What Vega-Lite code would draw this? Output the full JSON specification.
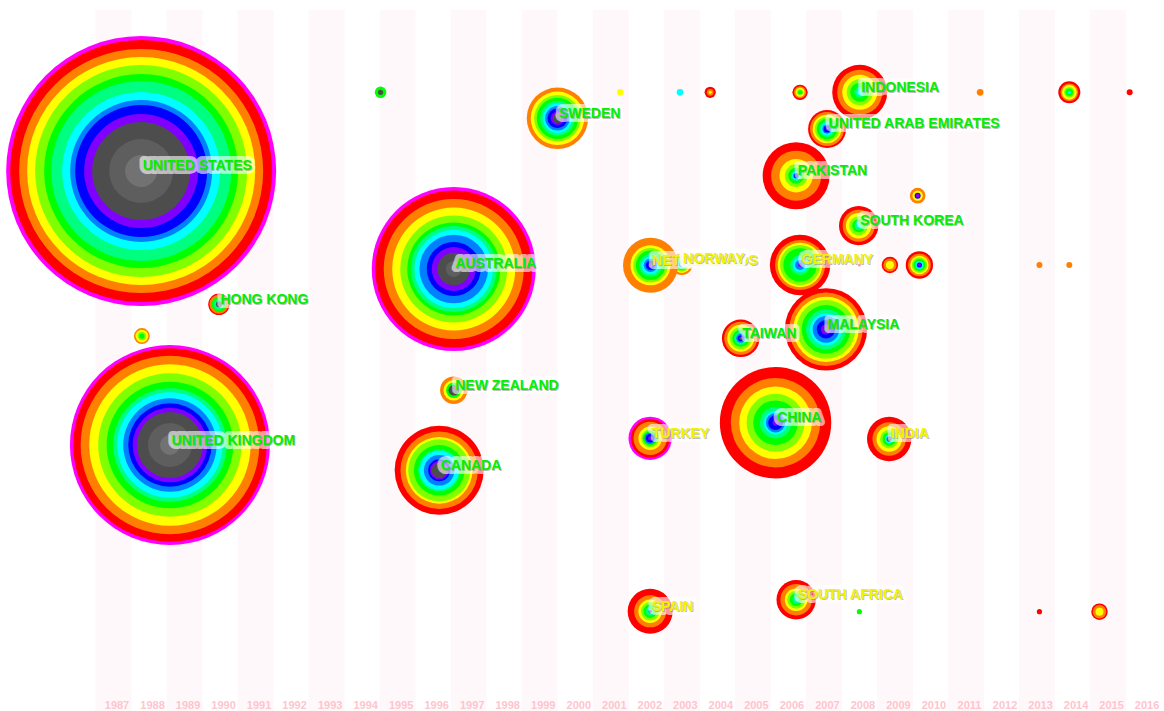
{
  "$schema": "https://vega.github.io/schema/vega-lite/v6.json",
  "width": 1164,
  "height": 711,
  "autosize": {"type": "none"},
  "padding": 0,
  "background": "#ffffff",
  "config": {"view": {"stroke": null}},
  "resolve": {"scale": {"color": "independent"}},
  "datasets": {
    "years": [
      {"year": 1987}, {"year": 1988}, {"year": 1989}, {"year": 1990}, {"year": 1991}, {"year": 1992},
      {"year": 1993}, {"year": 1994}, {"year": 1995}, {"year": 1996}, {"year": 1997}, {"year": 1998},
      {"year": 1999}, {"year": 2000}, {"year": 2001}, {"year": 2002}, {"year": 2003}, {"year": 2004},
      {"year": 2005}, {"year": 2006}, {"year": 2007}, {"year": 2008}, {"year": 2009}, {"year": 2010},
      {"year": 2011}, {"year": 2012}, {"year": 2013}, {"year": 2014}, {"year": 2015}, {"year": 2016}
    ],
    "rings": [
      {"node": "UNITED STATES", "x": 1987.68, "y": 24.05, "band": "centrality", "n": 8100},
      {"node": "UNITED STATES", "x": 1987.68, "y": 24.05, "band": "2016", "n": 7627},
      {"node": "UNITED STATES", "x": 1987.68, "y": 24.05, "band": "2015", "n": 6615},
      {"node": "UNITED STATES", "x": 1987.68, "y": 24.05, "band": "2014", "n": 5776},
      {"node": "UNITED STATES", "x": 1987.68, "y": 24.05, "band": "2013", "n": 4994},
      {"node": "UNITED STATES", "x": 1987.68, "y": 24.05, "band": "2012", "n": 4182},
      {"node": "UNITED STATES", "x": 1987.68, "y": 24.05, "band": "2011", "n": 3600},
      {"node": "UNITED STATES", "x": 1987.68, "y": 24.05, "band": "2010", "n": 2774},
      {"node": "UNITED STATES", "x": 1987.68, "y": 24.05, "band": "2009", "n": 2240},
      {"node": "UNITED STATES", "x": 1987.68, "y": 24.05, "band": "2008", "n": 1936},
      {"node": "UNITED STATES", "x": 1987.68, "y": 24.05, "band": "2007", "n": 1444},
      {"node": "UNITED STATES", "x": 1987.68, "y": 24.05, "band": "2001-2006", "n": 1067},
      {"node": "UNITED STATES", "x": 1987.68, "y": 24.05, "band": "1994-2000", "n": 455},
      {"node": "UNITED STATES", "x": 1987.68, "y": 24.05, "band": "1987-1993", "n": 114},

      {"node": "UNITED KINGDOM", "x": 1988.49, "y": 62.59, "band": "centrality", "n": 4444},
      {"node": "UNITED KINGDOM", "x": 1988.49, "y": 62.59, "band": "2016", "n": 4156},
      {"node": "UNITED KINGDOM", "x": 1988.49, "y": 62.59, "band": "2015", "n": 3544},
      {"node": "UNITED KINGDOM", "x": 1988.49, "y": 62.59, "band": "2014", "n": 2894},
      {"node": "UNITED KINGDOM", "x": 1988.49, "y": 62.59, "band": "2013", "n": 2285},
      {"node": "UNITED KINGDOM", "x": 1988.49, "y": 62.59, "band": "2012", "n": 1781},
      {"node": "UNITED KINGDOM", "x": 1988.49, "y": 62.59, "band": "2011", "n": 1429},
      {"node": "UNITED KINGDOM", "x": 1988.49, "y": 62.59, "band": "2010", "n": 1234},
      {"node": "UNITED KINGDOM", "x": 1988.49, "y": 62.59, "band": "2009", "n": 969},
      {"node": "UNITED KINGDOM", "x": 1988.49, "y": 62.59, "band": "2008", "n": 773},
      {"node": "UNITED KINGDOM", "x": 1988.49, "y": 62.59, "band": "2007", "n": 618},
      {"node": "UNITED KINGDOM", "x": 1988.49, "y": 62.59, "band": "2001-2006", "n": 484},
      {"node": "UNITED KINGDOM", "x": 1988.49, "y": 62.59, "band": "1994-2000", "n": 215},
      {"node": "UNITED KINGDOM", "x": 1988.49, "y": 62.59, "band": "1987-1993", "n": 44},

      {"node": "AUSTRALIA", "x": 1996.48, "y": 37.83, "band": "centrality", "n": 2988},
      {"node": "AUSTRALIA", "x": 1996.48, "y": 37.83, "band": "2016", "n": 2739},
      {"node": "AUSTRALIA", "x": 1996.48, "y": 37.83, "band": "2015", "n": 2178},
      {"node": "AUSTRALIA", "x": 1996.48, "y": 37.83, "band": "2014", "n": 1681},
      {"node": "AUSTRALIA", "x": 1996.48, "y": 37.83, "band": "2013", "n": 1272},
      {"node": "AUSTRALIA", "x": 1996.48, "y": 37.83, "band": "2012", "n": 961},
      {"node": "AUSTRALIA", "x": 1996.48, "y": 37.83, "band": "2011", "n": 822},
      {"node": "AUSTRALIA", "x": 1996.48, "y": 37.83, "band": "2010", "n": 686},
      {"node": "AUSTRALIA", "x": 1996.48, "y": 37.83, "band": "2009", "n": 523},
      {"node": "AUSTRALIA", "x": 1996.48, "y": 37.83, "band": "2008", "n": 324},
      {"node": "AUSTRALIA", "x": 1996.48, "y": 37.83, "band": "2007", "n": 215},
      {"node": "AUSTRALIA", "x": 1996.48, "y": 37.83, "band": "2001-2006", "n": 118},
      {"node": "AUSTRALIA", "x": 1996.48, "y": 37.83, "band": "1994-2000", "n": 28},

      {"node": "CANADA", "x": 1996.07, "y": 66.15, "band": "2016", "n": 880},
      {"node": "CANADA", "x": 1996.07, "y": 66.15, "band": "2015", "n": 666},
      {"node": "CANADA", "x": 1996.07, "y": 66.15, "band": "2014", "n": 493},
      {"node": "CANADA", "x": 1996.07, "y": 66.15, "band": "2013", "n": 427},
      {"node": "CANADA", "x": 1996.07, "y": 66.15, "band": "2012", "n": 284},
      {"node": "CANADA", "x": 1996.07, "y": 66.15, "band": "2011", "n": 196},
      {"node": "CANADA", "x": 1996.07, "y": 66.15, "band": "2010", "n": 166},
      {"node": "CANADA", "x": 1996.07, "y": 66.15, "band": "2009", "n": 104},
      {"node": "CANADA", "x": 1996.07, "y": 66.15, "band": "2008", "n": 54},
      {"node": "CANADA", "x": 1996.07, "y": 66.15, "band": "2007", "n": 38},
      {"node": "CANADA", "x": 1996.07, "y": 66.15, "band": "2001-2006", "n": 26},

      {"node": "NEW ZEALAND", "x": 1996.48, "y": 54.89, "band": "2015", "n": 83},
      {"node": "NEW ZEALAND", "x": 1996.48, "y": 54.89, "band": "2014", "n": 47},
      {"node": "NEW ZEALAND", "x": 1996.48, "y": 54.89, "band": "2012", "n": 26},
      {"node": "NEW ZEALAND", "x": 1996.48, "y": 54.89, "band": "2001-2006", "n": 12},

      {"node": "HONG KONG", "x": 1989.87, "y": 42.80, "band": "2016", "n": 51},
      {"node": "HONG KONG", "x": 1989.87, "y": 42.80, "band": "2015", "n": 40},
      {"node": "HONG KONG", "x": 1989.87, "y": 42.80, "band": "2012", "n": 25},
      {"node": "HONG KONG", "x": 1989.87, "y": 42.80, "band": "2011", "n": 13},
      {"node": "HONG KONG", "x": 1989.87, "y": 42.80, "band": "2001-2006", "n": 4},

      {"node": "n27", "x": 1987.70, "y": 47.26, "band": "2015", "n": 28},
      {"node": "n27", "x": 1987.70, "y": 47.26, "band": "2014", "n": 18},
      {"node": "n27", "x": 1987.70, "y": 47.26, "band": "2013", "n": 8},
      {"node": "n27", "x": 1987.70, "y": 47.26, "band": "2012", "n": 3},

      {"node": "n05", "x": 1994.42, "y": 12.98, "band": "2012", "n": 15},
      {"node": "n05", "x": 1994.42, "y": 12.98, "band": "2001-2006", "n": 3},

      {"node": "SWEDEN", "x": 1999.40, "y": 16.64, "band": "2015", "n": 419},
      {"node": "SWEDEN", "x": 1999.40, "y": 16.64, "band": "2014", "n": 317},
      {"node": "SWEDEN", "x": 1999.40, "y": 16.64, "band": "2013", "n": 241},
      {"node": "SWEDEN", "x": 1999.40, "y": 16.64, "band": "2012", "n": 190},
      {"node": "SWEDEN", "x": 1999.40, "y": 16.64, "band": "2011", "n": 133},
      {"node": "SWEDEN", "x": 1999.40, "y": 16.64, "band": "2010", "n": 96},
      {"node": "SWEDEN", "x": 1999.40, "y": 16.64, "band": "2009", "n": 67},
      {"node": "SWEDEN", "x": 1999.40, "y": 16.64, "band": "2008", "n": 44},
      {"node": "SWEDEN", "x": 1999.40, "y": 16.64, "band": "2007", "n": 20},
      {"node": "SWEDEN", "x": 1999.40, "y": 16.64, "band": "2001-2006", "n": 10},

      {"node": "n06", "x": 2001.17, "y": 12.98, "band": "2014", "n": 5},
      {"node": "n07", "x": 2002.85, "y": 12.98, "band": "2010", "n": 5},
      {"node": "n08", "x": 2003.70, "y": 12.98, "band": "2016", "n": 14},
      {"node": "n08", "x": 2003.70, "y": 12.98, "band": "2015", "n": 5},
      {"node": "n08", "x": 2003.70, "y": 12.98, "band": "2014", "n": 1},
      {"node": "n09", "x": 2006.23, "y": 12.98, "band": "2016", "n": 26},
      {"node": "n09", "x": 2006.23, "y": 12.98, "band": "2015", "n": 16},
      {"node": "n09", "x": 2006.23, "y": 12.98, "band": "2014", "n": 9},
      {"node": "n09", "x": 2006.23, "y": 12.98, "band": "2013", "n": 4},
      {"node": "n09", "x": 2006.23, "y": 12.98, "band": "2012", "n": 2},

      {"node": "INDONESIA", "x": 2007.91, "y": 12.98, "band": "2016", "n": 336},
      {"node": "INDONESIA", "x": 2007.91, "y": 12.98, "band": "2015", "n": 225},
      {"node": "INDONESIA", "x": 2007.91, "y": 12.98, "band": "2014", "n": 136},
      {"node": "INDONESIA", "x": 2007.91, "y": 12.98, "band": "2013", "n": 75},
      {"node": "INDONESIA", "x": 2007.91, "y": 12.98, "band": "2012", "n": 40},
      {"node": "INDONESIA", "x": 2007.91, "y": 12.98, "band": "2011", "n": 13},
      {"node": "INDONESIA", "x": 2007.91, "y": 12.98, "band": "2010", "n": 4},

      {"node": "n11", "x": 2011.30, "y": 12.98, "band": "2015", "n": 5},
      {"node": "n12", "x": 2013.81, "y": 12.98, "band": "2016", "n": 54},
      {"node": "n12", "x": 2013.81, "y": 12.98, "band": "2015", "n": 34},
      {"node": "n12", "x": 2013.81, "y": 12.98, "band": "2014", "n": 24},
      {"node": "n12", "x": 2013.81, "y": 12.98, "band": "2013", "n": 12},
      {"node": "n12", "x": 2013.81, "y": 12.98, "band": "2012", "n": 6},
      {"node": "n12", "x": 2013.81, "y": 12.98, "band": "2010", "n": 1},
      {"node": "n13", "x": 2015.51, "y": 12.98, "band": "2016", "n": 4},

      {"node": "UNITED ARAB EMIRATES", "x": 2006.99, "y": 18.14, "band": "2016", "n": 160},
      {"node": "UNITED ARAB EMIRATES", "x": 2006.99, "y": 18.14, "band": "2015", "n": 128},
      {"node": "UNITED ARAB EMIRATES", "x": 2006.99, "y": 18.14, "band": "2014", "n": 91},
      {"node": "UNITED ARAB EMIRATES", "x": 2006.99, "y": 18.14, "band": "2013", "n": 67},
      {"node": "UNITED ARAB EMIRATES", "x": 2006.99, "y": 18.14, "band": "2012", "n": 47},
      {"node": "UNITED ARAB EMIRATES", "x": 2006.99, "y": 18.14, "band": "2011", "n": 28},
      {"node": "UNITED ARAB EMIRATES", "x": 2006.99, "y": 18.14, "band": "2010", "n": 18},
      {"node": "UNITED ARAB EMIRATES", "x": 2006.99, "y": 18.14, "band": "2009", "n": 10},
      {"node": "UNITED ARAB EMIRATES", "x": 2006.99, "y": 18.14, "band": "2008", "n": 5},
      {"node": "UNITED ARAB EMIRATES", "x": 2006.99, "y": 18.14, "band": "2007", "n": 1},

      {"node": "PAKISTAN", "x": 2006.12, "y": 24.71, "band": "2016", "n": 499},
      {"node": "PAKISTAN", "x": 2006.12, "y": 24.71, "band": "2015", "n": 278},
      {"node": "PAKISTAN", "x": 2006.12, "y": 24.71, "band": "2014", "n": 124},
      {"node": "PAKISTAN", "x": 2006.12, "y": 24.71, "band": "2013", "n": 57},
      {"node": "PAKISTAN", "x": 2006.12, "y": 24.71, "band": "2012", "n": 28},
      {"node": "PAKISTAN", "x": 2006.12, "y": 24.71, "band": "2011", "n": 13},
      {"node": "PAKISTAN", "x": 2006.12, "y": 24.71, "band": "2010", "n": 7},
      {"node": "PAKISTAN", "x": 2006.12, "y": 24.71, "band": "2008", "n": 3},

      {"node": "n16", "x": 2009.54, "y": 27.52, "band": "2015", "n": 27},
      {"node": "n16", "x": 2009.54, "y": 27.52, "band": "2014", "n": 12},
      {"node": "n16", "x": 2009.54, "y": 27.52, "band": "2008", "n": 4},
      {"node": "n16", "x": 2009.54, "y": 27.52, "band": "2007", "n": 2},

      {"node": "SOUTH KOREA", "x": 2007.88, "y": 31.74, "band": "2016", "n": 172},
      {"node": "SOUTH KOREA", "x": 2007.88, "y": 31.74, "band": "2015", "n": 114},
      {"node": "SOUTH KOREA", "x": 2007.88, "y": 31.74, "band": "2014", "n": 72},
      {"node": "SOUTH KOREA", "x": 2007.88, "y": 31.74, "band": "2013", "n": 40},
      {"node": "SOUTH KOREA", "x": 2007.88, "y": 31.74, "band": "2012", "n": 19},
      {"node": "SOUTH KOREA", "x": 2007.88, "y": 31.74, "band": "2011", "n": 7},
      {"node": "SOUTH KOREA", "x": 2007.88, "y": 31.74, "band": "2010", "n": 2},

      {"node": "NORWAY", "x": 2002.90, "y": 37.13, "band": "2015", "n": 54},
      {"node": "NORWAY", "x": 2002.90, "y": 37.13, "band": "2014", "n": 36},
      {"node": "NORWAY", "x": 2002.90, "y": 37.13, "band": "2013", "n": 25},
      {"node": "NORWAY", "x": 2002.90, "y": 37.13, "band": "2012", "n": 16},
      {"node": "NORWAY", "x": 2002.90, "y": 37.13, "band": "2010", "n": 9},
      {"node": "NORWAY", "x": 2002.90, "y": 37.13, "band": "2009", "n": 4},
      {"node": "NORWAY", "x": 2002.90, "y": 37.13, "band": "2007", "n": 1},

      {"node": "NETHERLANDS", "x": 2002.02, "y": 37.31, "band": "2015", "n": 336},
      {"node": "NETHERLANDS", "x": 2002.02, "y": 37.31, "band": "2014", "n": 178},
      {"node": "NETHERLANDS", "x": 2002.02, "y": 37.31, "band": "2013", "n": 133},
      {"node": "NETHERLANDS", "x": 2002.02, "y": 37.31, "band": "2012", "n": 96},
      {"node": "NETHERLANDS", "x": 2002.02, "y": 37.31, "band": "2011", "n": 57},
      {"node": "NETHERLANDS", "x": 2002.02, "y": 37.31, "band": "2010", "n": 36},
      {"node": "NETHERLANDS", "x": 2002.02, "y": 37.31, "band": "2009", "n": 20},
      {"node": "NETHERLANDS", "x": 2002.02, "y": 37.31, "band": "2008", "n": 10},
      {"node": "NETHERLANDS", "x": 2002.02, "y": 37.31, "band": "2007", "n": 2},

      {"node": "GERMANY", "x": 2006.23, "y": 37.27, "band": "2016", "n": 405},
      {"node": "GERMANY", "x": 2006.23, "y": 37.27, "band": "2015", "n": 278},
      {"node": "GERMANY", "x": 2006.23, "y": 37.27, "band": "2014", "n": 221},
      {"node": "GERMANY", "x": 2006.23, "y": 37.27, "band": "2013", "n": 178},
      {"node": "GERMANY", "x": 2006.23, "y": 37.27, "band": "2012", "n": 124},
      {"node": "GERMANY", "x": 2006.23, "y": 37.27, "band": "2011", "n": 44},
      {"node": "GERMANY", "x": 2006.23, "y": 37.27, "band": "2010", "n": 24},
      {"node": "GERMANY", "x": 2006.23, "y": 37.27, "band": "2009", "n": 11},
      {"node": "GERMANY", "x": 2006.23, "y": 37.27, "band": "2007", "n": 2},

      {"node": "n21", "x": 2007.90, "y": 37.27, "band": "2016", "n": 1},
      {"node": "n22", "x": 2008.76, "y": 37.27, "band": "2016", "n": 30},
      {"node": "n22", "x": 2008.76, "y": 37.27, "band": "2015", "n": 19},
      {"node": "n22", "x": 2008.76, "y": 37.27, "band": "2014", "n": 7},
      {"node": "n23", "x": 2009.59, "y": 37.27, "band": "2016", "n": 83},
      {"node": "n23", "x": 2009.59, "y": 37.27, "band": "2015", "n": 57},
      {"node": "n23", "x": 2009.59, "y": 37.27, "band": "2014", "n": 38},
      {"node": "n23", "x": 2009.59, "y": 37.27, "band": "2013", "n": 26},
      {"node": "n23", "x": 2009.59, "y": 37.27, "band": "2012", "n": 16},
      {"node": "n23", "x": 2009.59, "y": 37.27, "band": "2010", "n": 7},
      {"node": "n23", "x": 2009.59, "y": 37.27, "band": "2008", "n": 3},
      {"node": "n23", "x": 2009.59, "y": 37.27, "band": "2007", "n": 1},
      {"node": "n24", "x": 2012.97, "y": 37.27, "band": "2015", "n": 4},
      {"node": "n25", "x": 2013.81, "y": 37.27, "band": "2015", "n": 4},

      {"node": "TAIWAN", "x": 2004.56, "y": 47.58, "band": "2016", "n": 157},
      {"node": "TAIWAN", "x": 2004.56, "y": 47.58, "band": "2015", "n": 121},
      {"node": "TAIWAN", "x": 2004.56, "y": 47.58, "band": "2014", "n": 81},
      {"node": "TAIWAN", "x": 2004.56, "y": 47.58, "band": "2013", "n": 54},
      {"node": "TAIWAN", "x": 2004.56, "y": 47.58, "band": "2012", "n": 32},
      {"node": "TAIWAN", "x": 2004.56, "y": 47.58, "band": "2011", "n": 19},
      {"node": "TAIWAN", "x": 2004.56, "y": 47.58, "band": "2009", "n": 9},
      {"node": "TAIWAN", "x": 2004.56, "y": 47.58, "band": "2008", "n": 4},
      {"node": "TAIWAN", "x": 2004.56, "y": 47.58, "band": "2001-2006", "n": 1},

      {"node": "MALAYSIA", "x": 2006.96, "y": 46.32, "band": "2016", "n": 754},
      {"node": "MALAYSIA", "x": 2006.96, "y": 46.32, "band": "2015", "n": 599},
      {"node": "MALAYSIA", "x": 2006.96, "y": 46.32, "band": "2014", "n": 475},
      {"node": "MALAYSIA", "x": 2006.96, "y": 46.32, "band": "2013", "n": 382},
      {"node": "MALAYSIA", "x": 2006.96, "y": 46.32, "band": "2012", "n": 262},
      {"node": "MALAYSIA", "x": 2006.96, "y": 46.32, "band": "2011", "n": 178},
      {"node": "MALAYSIA", "x": 2006.96, "y": 46.32, "band": "2010", "n": 114},
      {"node": "MALAYSIA", "x": 2006.96, "y": 46.32, "band": "2009", "n": 79},
      {"node": "MALAYSIA", "x": 2006.96, "y": 46.32, "band": "2008", "n": 38},
      {"node": "MALAYSIA", "x": 2006.96, "y": 46.32, "band": "2007", "n": 12},
      {"node": "MALAYSIA", "x": 2006.96, "y": 46.32, "band": "2001-2006", "n": 2},

      {"node": "CHINA", "x": 2005.54, "y": 59.45, "band": "2016", "n": 1379},
      {"node": "CHINA", "x": 2005.54, "y": 59.45, "band": "2015", "n": 888},
      {"node": "CHINA", "x": 2005.54, "y": 59.45, "band": "2014", "n": 586},
      {"node": "CHINA", "x": 2005.54, "y": 59.45, "band": "2013", "n": 374},
      {"node": "CHINA", "x": 2005.54, "y": 59.45, "band": "2012", "n": 221},
      {"node": "CHINA", "x": 2005.54, "y": 59.45, "band": "2011", "n": 110},
      {"node": "CHINA", "x": 2005.54, "y": 59.45, "band": "2010", "n": 61},
      {"node": "CHINA", "x": 2005.54, "y": 59.45, "band": "2009", "n": 42},
      {"node": "CHINA", "x": 2005.54, "y": 59.45, "band": "2008", "n": 24},
      {"node": "CHINA", "x": 2005.54, "y": 59.45, "band": "2007", "n": 4},

      {"node": "INDIA", "x": 2008.74, "y": 61.74, "band": "2016", "n": 219},
      {"node": "INDIA", "x": 2008.74, "y": 61.74, "band": "2015", "n": 124},
      {"node": "INDIA", "x": 2008.74, "y": 61.74, "band": "2014", "n": 72},
      {"node": "INDIA", "x": 2008.74, "y": 61.74, "band": "2013", "n": 38},
      {"node": "INDIA", "x": 2008.74, "y": 61.74, "band": "2012", "n": 20},
      {"node": "INDIA", "x": 2008.74, "y": 61.74, "band": "2010", "n": 8},
      {"node": "INDIA", "x": 2008.74, "y": 61.74, "band": "2001-2006", "n": 3},

      {"node": "TURKEY", "x": 2002.01, "y": 61.65, "band": "centrality", "n": 209},
      {"node": "TURKEY", "x": 2002.01, "y": 61.65, "band": "2016", "n": 166},
      {"node": "TURKEY", "x": 2002.01, "y": 61.65, "band": "2015", "n": 124},
      {"node": "TURKEY", "x": 2002.01, "y": 61.65, "band": "2014", "n": 61},
      {"node": "TURKEY", "x": 2002.01, "y": 61.65, "band": "2013", "n": 36},
      {"node": "TURKEY", "x": 2002.01, "y": 61.65, "band": "2012", "n": 24},
      {"node": "TURKEY", "x": 2002.01, "y": 61.65, "band": "2009", "n": 14},
      {"node": "TURKEY", "x": 2002.01, "y": 61.65, "band": "2008", "n": 8},
      {"node": "TURKEY", "x": 2002.01, "y": 61.65, "band": "2007", "n": 2},

      {"node": "SPAIN", "x": 2002.01, "y": 85.98, "band": "2016", "n": 225},
      {"node": "SPAIN", "x": 2002.01, "y": 85.98, "band": "2015", "n": 114},
      {"node": "SPAIN", "x": 2002.01, "y": 85.98, "band": "2014", "n": 61},
      {"node": "SPAIN", "x": 2002.01, "y": 85.98, "band": "2013", "n": 38},
      {"node": "SPAIN", "x": 2002.01, "y": 85.98, "band": "2012", "n": 20},
      {"node": "SPAIN", "x": 2002.01, "y": 85.98, "band": "2011", "n": 8},
      {"node": "SPAIN", "x": 2002.01, "y": 85.98, "band": "2007", "n": 1},

      {"node": "SOUTH AFRICA", "x": 2006.12, "y": 84.35, "band": "2016", "n": 172},
      {"node": "SOUTH AFRICA", "x": 2006.12, "y": 84.35, "band": "2015", "n": 110},
      {"node": "SOUTH AFRICA", "x": 2006.12, "y": 84.35, "band": "2014", "n": 57},
      {"node": "SOUTH AFRICA", "x": 2006.12, "y": 84.35, "band": "2013", "n": 36},
      {"node": "SOUTH AFRICA", "x": 2006.12, "y": 84.35, "band": "2012", "n": 18},
      {"node": "SOUTH AFRICA", "x": 2006.12, "y": 84.35, "band": "2011", "n": 6},
      {"node": "SOUTH AFRICA", "x": 2006.12, "y": 84.35, "band": "2010", "n": 1},

      {"node": "n37", "x": 2007.90, "y": 86.03, "band": "2012", "n": 3},
      {"node": "n38", "x": 2012.97, "y": 86.03, "band": "2016", "n": 3},
      {"node": "n39", "x": 2014.66, "y": 86.03, "band": "2016", "n": 30},
      {"node": "n39", "x": 2014.66, "y": 86.03, "band": "2015", "n": 20},
      {"node": "n39", "x": 2014.66, "y": 86.03, "band": "2014", "n": 7}
    ],
    "labels": [
      {"name": "UNITED STATES", "x": 1987.68, "y": 24.05, "group": "A"},
      {"name": "UNITED KINGDOM", "x": 1988.49, "y": 62.59, "group": "A"},
      {"name": "AUSTRALIA", "x": 1996.48, "y": 37.83, "group": "A"},
      {"name": "CANADA", "x": 1996.07, "y": 66.15, "group": "A"},
      {"name": "NEW ZEALAND", "x": 1996.48, "y": 54.89, "group": "A"},
      {"name": "HONG KONG", "x": 1989.87, "y": 42.80, "group": "A"},
      {"name": "SWEDEN", "x": 1999.40, "y": 16.64, "group": "A"},
      {"name": "INDONESIA", "x": 2007.91, "y": 12.98, "group": "A"},
      {"name": "UNITED ARAB EMIRATES", "x": 2006.99, "y": 18.14, "group": "A"},
      {"name": "PAKISTAN", "x": 2006.12, "y": 24.71, "group": "A"},
      {"name": "SOUTH KOREA", "x": 2007.88, "y": 31.74, "group": "A"},
      {"name": "NETHERLANDS", "x": 2002.02, "y": 37.31, "group": "B"},
      {"name": "NORWAY", "x": 2002.90, "y": 37.13, "group": "B"},
      {"name": "GERMANY", "x": 2006.23, "y": 37.27, "group": "B"},
      {"name": "TAIWAN", "x": 2004.56, "y": 47.58, "group": "A"},
      {"name": "MALAYSIA", "x": 2006.96, "y": 46.32, "group": "A"},
      {"name": "CHINA", "x": 2005.54, "y": 59.45, "group": "A"},
      {"name": "INDIA", "x": 2008.74, "y": 61.74, "group": "B"},
      {"name": "TURKEY", "x": 2002.01, "y": 61.65, "group": "B"},
      {"name": "SPAIN", "x": 2002.01, "y": 85.98, "group": "B"},
      {"name": "SOUTH AFRICA", "x": 2006.12, "y": 84.35, "group": "B"}
    ]
  },
  "layer": [
    {
      "data": {"name": "years"},
      "transform": [{"filter": "datum.year % 2 == 1"}],
      "mark": {"type": "rule", "strokeWidth": 36, "color": "#fff8fa", "xOffset": -3.5},
      "encoding": {
        "x": {"field": "year", "type": "quantitative", "scale": {"domain": [1983.706, 2016.476], "nice": false, "zero": false}, "axis": null},
        "y": {"datum": 1.4, "type": "quantitative", "scale": {"domain": [0, 100], "reverse": true, "nice": false, "zero": false}, "axis": null},
        "y2": {"datum": 100}
      }
    },
    {
      "data": {"name": "years"},
      "mark": {"type": "text", "font": "Liberation Sans", "fontWeight": "bold", "fontSize": 11, "color": "#ffc4cd", "baseline": "middle", "align": "center"},
      "encoding": {
        "x": {"field": "year", "type": "quantitative", "axis": null},
        "y": {"datum": 99.3, "type": "quantitative", "axis": null},
        "text": {"field": "year", "type": "nominal"}
      }
    },
    {
      "data": {"name": "rings"},
      "mark": {"type": "point", "shape": "circle", "filled": true, "opacity": 1, "strokeWidth": 0},
      "encoding": {
        "x": {"field": "x", "type": "quantitative", "axis": null},
        "y": {"field": "y", "type": "quantitative", "axis": null},
        "size": {"field": "n", "type": "quantitative", "scale": {"type": "linear", "domain": [0, 10000], "range": [0, 90000], "zero": true}, "legend": null},
        "color": {
          "field": "band", "type": "nominal", "legend": null,
          "scale": {
            "domain": ["centrality", "2016", "2015", "2014", "2013", "2012", "2011", "2010", "2009", "2008", "2007", "2001-2006", "1994-2000", "1987-1993"],
            "range": ["#ff00ff", "#ff0000", "#ff8000", "#ffff00", "#80ff00", "#00ff00", "#00ff80", "#00ffff", "#0080ff", "#0000ff", "#8000ff", "#4d4d4d", "#5e5e5e", "#727272"]
          }
        }
      }
    },
    {
      "data": {"name": "labels"},
      "transform": [{"filter": "datum.name != 'NORWAY'"}],
      "mark": {"type": "text", "align": "left", "baseline": "middle", "dx": 1.5, "dy": -4.5, "font": "Liberation Sans", "fontWeight": "bold", "fontSize": 14, "fill": "#ffffff", "stroke": "#ffffff", "strokeWidth": 8, "strokeJoin": "round", "opacity": 0.6},
      "encoding": {
        "x": {"field": "x", "type": "quantitative", "axis": null},
        "y": {"field": "y", "type": "quantitative", "axis": null},
        "text": {"field": "name"}
      }
    },
    {
      "data": {"name": "labels"},
      "transform": [{"filter": "datum.name != 'NORWAY'"}],
      "mark": {"type": "text", "align": "left", "baseline": "middle", "dx": 2.5, "dy": -3.5, "font": "Liberation Sans", "fontWeight": "bold", "fontSize": 14, "fill": "#808080", "opacity": 0.5},
      "encoding": {
        "x": {"field": "x", "type": "quantitative", "axis": null},
        "y": {"field": "y", "type": "quantitative", "axis": null},
        "text": {"field": "name"}
      }
    },
    {
      "data": {"name": "labels"},
      "transform": [{"filter": "datum.name != 'NORWAY'"}],
      "mark": {"type": "text", "align": "left", "baseline": "middle", "dx": 1.5, "dy": -4.5, "font": "Liberation Sans", "fontWeight": "bold", "fontSize": 14},
      "encoding": {
        "x": {"field": "x", "type": "quantitative", "axis": null},
        "y": {"field": "y", "type": "quantitative", "axis": null},
        "text": {"field": "name"},
        "color": {"field": "group", "type": "nominal", "legend": null, "scale": {"domain": ["A", "B"], "range": ["#00f000", "#f2f200"]}}
      }
    },
    {
      "data": {"name": "labels"},
      "transform": [{"filter": "datum.name == 'NORWAY'"}],
      "mark": {"type": "text", "align": "left", "baseline": "middle", "dx": 1.5, "dy": -4.5, "font": "Liberation Sans", "fontWeight": "bold", "fontSize": 14, "fill": "#ffffff", "stroke": "#ffffff", "strokeWidth": 9, "strokeJoin": "round", "opacity": 0.85},
      "encoding": {
        "x": {"field": "x", "type": "quantitative", "axis": null},
        "y": {"field": "y", "type": "quantitative", "axis": null},
        "text": {"field": "name"}
      }
    },
    {
      "data": {"name": "labels"},
      "transform": [{"filter": "datum.name == 'NORWAY'"}],
      "mark": {"type": "text", "align": "left", "baseline": "middle", "dx": 2.5, "dy": -3.5, "font": "Liberation Sans", "fontWeight": "bold", "fontSize": 14, "fill": "#808080", "opacity": 0.5},
      "encoding": {
        "x": {"field": "x", "type": "quantitative", "axis": null},
        "y": {"field": "y", "type": "quantitative", "axis": null},
        "text": {"field": "name"}
      }
    },
    {
      "data": {"name": "labels"},
      "transform": [{"filter": "datum.name == 'NORWAY'"}],
      "mark": {"type": "text", "align": "left", "baseline": "middle", "dx": 1.5, "dy": -4.5, "font": "Liberation Sans", "fontWeight": "bold", "fontSize": 14},
      "encoding": {
        "x": {"field": "x", "type": "quantitative", "axis": null},
        "y": {"field": "y", "type": "quantitative", "axis": null},
        "text": {"field": "name"},
        "color": {"field": "group", "type": "nominal", "legend": null, "scale": {"domain": ["A", "B"], "range": ["#00f000", "#f2f200"]}}
      }
    }
  ]
}
